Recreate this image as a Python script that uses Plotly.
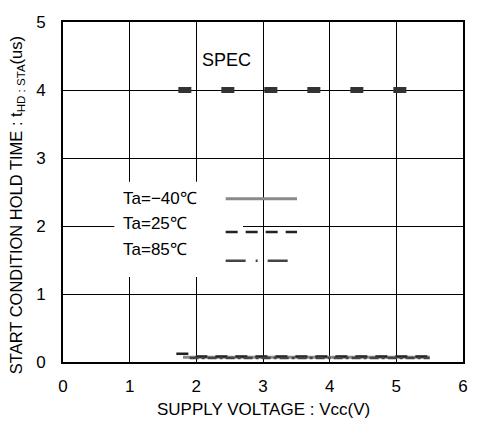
import plotly.graph_objects as go

# Data
spec_x = [1.73, 5.5]
spec_y = [4.0, 4.0]

vcc_m40 = [1.8, 2.5, 3.0, 3.5, 4.0, 4.5, 5.0, 5.5]
thd_m40 = [0.07, 0.07, 0.07, 0.07, 0.07, 0.07, 0.07, 0.07]

vcc_25 = [1.7, 1.95, 2.0, 2.5, 3.0, 3.5, 4.0, 4.5, 5.0, 5.5]
thd_25 = [0.12, 0.12, 0.08, 0.08, 0.08, 0.08, 0.08, 0.08, 0.08, 0.08]

vcc_85 = [1.9, 2.5, 3.0, 3.5, 4.0, 4.5, 5.0, 5.5]
thd_85 = [0.06, 0.06, 0.06, 0.06, 0.06, 0.06, 0.06, 0.06]

x_ticks = [0, 1, 2, 3, 4, 5, 6]
y_ticks = [0, 1, 2, 3, 4, 5]

legend_labels = ["Ta=\u221240\u2103", "Ta=25\u2103", "Ta=85\u2103"]

FONT = "Liberation Sans, Arial, sans-serif"

fig = go.Figure()

fig.add_trace(go.Scatter(x=vcc_m40, y=thd_m40, mode="lines",
                         line=dict(color="#8a8a8a", width=3), showlegend=False))
fig.add_trace(go.Scatter(x=vcc_25, y=thd_25, mode="lines",
                         line=dict(color="#222222", width=2.5, dash="12px,8px"), showlegend=False))
fig.add_trace(go.Scatter(x=vcc_85, y=thd_85, mode="lines",
                         line=dict(color="#444444", width=2.5, dash="dashdot"), showlegend=False))
fig.add_trace(go.Scatter(x=spec_x, y=spec_y, mode="lines",
                         line=dict(color="#333333", width=6, dash="13px,30px"), showlegend=False))

shapes = [
    # white background behind the inline legend
    dict(type="rect", xref="x", yref="y", x0=0.77, x1=2.70, y0=1.25, y1=2.65,
         fillcolor="white", line=dict(width=0), layer="between"),
    # legend sample lines
    dict(type="line", xref="x", yref="y", x0=2.44, x1=3.51, y0=2.40, y1=2.40,
         line=dict(color="#8a8a8a", width=3)),
    dict(type="line", xref="x", yref="y", x0=2.44, x1=3.51, y0=1.91, y1=1.91,
         line=dict(color="#222222", width=2.5, dash="12px,8px")),
    dict(type="line", xref="x", yref="y", x0=2.44, x1=3.51, y0=1.49, y1=1.49,
         line=dict(color="#444444", width=2.5, dash="20px,10px,2px,10px")),
]

annotations = [
    dict(x=2.06, y=4.44, xref="x", yref="y", text="SPEC", showarrow=False,
         xanchor="left", yanchor="middle", font=dict(size=18, color="black", family=FONT)),
    dict(x=0.87, y=2.40, xref="x", yref="y", text=legend_labels[0], showarrow=False,
         xanchor="left", yanchor="middle", font=dict(size=17, color="black", family=FONT)),
    dict(x=0.87, y=2.04, xref="x", yref="y", text=legend_labels[1], showarrow=False,
         xanchor="left", yanchor="middle", font=dict(size=17, color="black", family=FONT)),
    dict(x=0.87, y=1.65, xref="x", yref="y", text=legend_labels[2], showarrow=False,
         xanchor="left", yanchor="middle", font=dict(size=17, color="black", family=FONT)),
    dict(x=-0.116, y=0.46, xref="paper", yref="paper",
         text="START CONDITION HOLD TIME : t<sub>HD : STA</sub>(us)",
         textangle=-90, showarrow=False, xanchor="center", yanchor="middle",
         font=dict(size=16.5, color="black", family=FONT)),
    dict(x=0.5, y=-0.141, xref="paper", yref="paper",
         text="SUPPLY VOLTAGE : Vcc(V)", showarrow=False,
         xanchor="center", yanchor="middle",
         font=dict(size=17, color="black", family=FONT)),
]

fig.update_layout(
    width=477, height=427,
    margin=dict(l=63, r=9, t=22, b=65),
    paper_bgcolor="white", plot_bgcolor="white",
    font=dict(family=FONT, size=17, color="black"),
    shapes=shapes, annotations=annotations,
    showlegend=False,
)

fig.update_xaxes(range=[0, 6], tickvals=x_ticks, ticktext=[str(v) for v in x_ticks],
                 showgrid=True, gridcolor="black", gridwidth=1,
                 showline=True, linecolor="black", linewidth=2, mirror=True,
                 ticks="", zeroline=False, ticklabelstandoff=8)
fig.update_yaxes(range=[0, 5], tickvals=y_ticks, ticktext=[str(v) for v in y_ticks],
                 showgrid=True, gridcolor="black", gridwidth=1,
                 showline=True, linecolor="black", linewidth=2, mirror=True,
                 ticks="", zeroline=False, ticklabelstandoff=12)

fig.write_html("out.html", config={"displayModeBar": False},
               post_script="document.body.style.margin='0';document.body.style.overflow='hidden';")
